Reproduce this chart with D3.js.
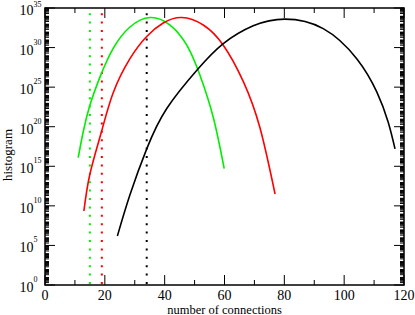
<!DOCTYPE html>
<html>
<head>
<meta charset="utf-8">
<script src="https://cdn.jsdelivr.net/npm/d3@7"></script>
<style>
  body { margin: 0; background: #fff; }
  svg { display: block; }
</style>
</head>
<body>
<svg class="chart" width="415" height="315" font-family="Liberation Serif, DejaVu Serif, serif"></svg>
<script>
// number of connections (x) and histogram as powers of ten (log10)
const greenX = [11.1, 12.8, 15.0, 18.4, 22.8, 28.4, 35.1, 41.8, 47.4, 51.8, 56.3, 59.9]
const greenLog = [16.1, 19.4, 22.7, 26.3, 29.9, 32.6, 33.8, 32.85, 30.3, 26.5, 21.1, 14.7]
const redX = [13.0, 15.0, 18.9, 22.8, 28.4, 34.0, 39.5, 45.7, 52.9, 59.6, 66.3, 71.9, 76.9]
const redLog = [9.35, 14.0, 19.4, 24.3, 28.6, 31.4, 33.1, 33.8, 32.85, 30.3, 25.7, 19.8, 11.5]
const blackX = [24.2, 28.4, 34.0, 40.7, 50.9, 59.6, 69.6, 80.2, 93.0, 104.2, 110.9, 114.7, 117.0]
const blackLog = [6.2, 11.4, 17.2, 22.3, 27.2, 30.5, 32.75, 33.6, 32.4, 28.6, 24.4, 20.6, 17.2]
const markerX = [15, 19, 34]   // dotted verticals: green, red, black
const xTicks = [0, 20, 40, 60, 80, 100, 120]
const xMinor = [10, 30, 50, 70, 90, 110]
const yExps = [0, 5, 10, 15, 20, 25, 30, 35]

const pLeft = 45, pRight = 404, pTop = 8, pBottom = 285
const chart = d3.select('.chart')

const xSc = d3.scaleLinear().domain([0, 120]).range([pLeft, pRight])
const ySc = d3.scaleLog().domain([1, 1e35]).range([pBottom, pTop])

const colors = ['#00ee00', '#ff0000', '#000000']

// dotted markers
chart.selectAll('.marker')
  .data(markerX)
  .enter()
  .append('line')
  .attr('x1', d => xSc(d))
  .attr('x2', d => xSc(d))
  .attr('y1', pBottom - 1)
  .attr('y2', pTop + 2)
  .attr('stroke', (d, i) => colors[i])
  .attr('stroke-width', 2)
  .attr('stroke-dasharray', '2 6.4')

// curves
function toPoints(xs, logs) {
  return xs.map((x, i) => [x, Math.pow(10, logs[i])])
}
const series = [
  toPoints(greenX, greenLog),
  toPoints(redX, redLog),
  toPoints(blackX, blackLog)
]
const line = d3.line()
  .x(d => xSc(d[0]))
  .y(d => ySc(d[1]))
  .curve(d3.curveNatural)

chart.selectAll('.curve')
  .data(series)
  .enter()
  .append('path')
  .attr('d', line)
  .attr('fill', 'none')
  .attr('stroke', (d, i) => colors[i])
  .attr('stroke-width', 1.6)

// frame
chart.append('rect')
  .attr('x', pLeft)
  .attr('y', pTop)
  .attr('width', pRight - pLeft)
  .attr('height', pBottom - pTop)
  .attr('fill', 'none')
  .attr('stroke', '#000')
  .attr('stroke-width', 1.5)

// x ticks (bottom and top, pointing inward)
const ticks = chart.append('g').attr('stroke', '#000').attr('stroke-width', 1)
xTicks.forEach(v => {
  ticks.append('line').attr('x1', xSc(v)).attr('x2', xSc(v)).attr('y1', pBottom).attr('y2', pBottom - 10)
  ticks.append('line').attr('x1', xSc(v)).attr('x2', xSc(v)).attr('y1', pTop).attr('y2', pTop + 10)
})
xMinor.forEach(v => {
  ticks.append('line').attr('x1', xSc(v)).attr('x2', xSc(v)).attr('y1', pBottom).attr('y2', pBottom - 5)
  ticks.append('line').attr('x1', xSc(v)).attr('x2', xSc(v)).attr('y1', pTop).attr('y2', pTop + 5)
})

// y ticks: major every 10^5, minor at 2..9 x 10^k
yExps.forEach(e => {
  const y = ySc(Math.pow(10, e))
  ticks.append('line').attr('x1', pLeft).attr('x2', pLeft + 10).attr('y1', y).attr('y2', y)
  ticks.append('line').attr('x1', pRight).attr('x2', pRight - 10).attr('y1', y).attr('y2', y)
})
for (let k = 0; k < 35; k++) {
  for (let m = 2; m <= 9; m++) {
    const y = ySc(m * Math.pow(10, k))
    ticks.append('line').attr('x1', pLeft).attr('x2', pLeft + 4).attr('y1', y).attr('y2', y)
    ticks.append('line').attr('x1', pRight).attr('x2', pRight - 4).attr('y1', y).attr('y2', y)
  }
}

// x tick labels
chart.selectAll('.xlab')
  .data(xTicks)
  .enter()
  .append('text')
  .attr('x', d => xSc(d))
  .attr('y', pBottom + 15)
  .attr('text-anchor', 'middle')
  .attr('font-size', 14)
  .text(d => d)

// y tick labels 10^e
chart.selectAll('.ylab')
  .data(yExps)
  .enter()
  .append('text')
  .attr('x', 33.5)
  .attr('y', d => ySc(Math.pow(10, d)) + 7)
  .attr('text-anchor', 'end')
  .attr('font-size', 14)
  .text('10')
chart.selectAll('.yexp')
  .data(yExps)
  .enter()
  .append('text')
  .attr('x', 33.5)
  .attr('y', d => Math.max(ySc(Math.pow(10, d)) - 3, 6.5))
  .attr('font-size', 8)
  .text(d => d)

// axis titles
chart.append('text')
  .attr('x', (pLeft + pRight) / 2)
  .attr('y', 313.5)
  .attr('text-anchor', 'middle')
  .attr('font-size', 12.5)
  .text('number of connections')

chart.append('text')
  .attr('transform', 'translate(12,155) rotate(-90)')
  .attr('text-anchor', 'middle')
  .attr('font-size', 13)
  .text('histogram')
</script>
</body>
</html>
